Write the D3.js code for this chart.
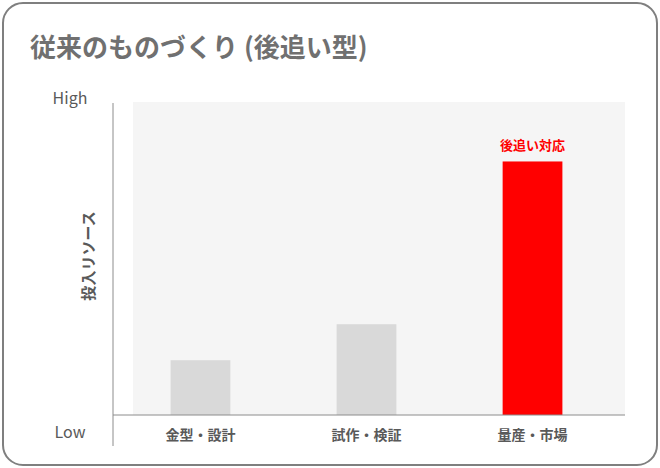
<!DOCTYPE html>
<html><head><meta charset="utf-8">
<script src="https://cdn.jsdelivr.net/npm/d3@7"></script>
<style>body{margin:0;background:#fff}svg{display:block}</style>
</head><body><svg id="c" width="660" height="468"></svg>
<script>
var categories = ['金型・設計', '試作・検証', '量産・市場'];
var values = [17.5, 29, 81];
var colors = ['#d9d9d9', '#d9d9d9', '#ff0000'];
var barLabels = ['', '', '後追い対応'];
var yTicks = ['Low', 'High'];

var svg = d3.select('#c');
var F = "'Noto Sans CJK JP', 'Noto Sans', sans-serif";
svg.append('rect').attr('x', 3).attr('y', 3).attr('width', 654).attr('height', 462).attr('rx', 20)
  .attr('fill', '#fff').attr('stroke', '#7f7f7f').attr('stroke-width', 2);
svg.append('text').attr('x', 30).attr('y', 57).attr('font-family', F).attr('font-size', 26).attr('font-weight', 700)
  .attr('fill', '#707070').text('従来のものづくり (後追い型)');

var L = 133, R = 625, T = 102, B = 415;
var x = d3.scaleBand().domain(categories).range([154, 579]).paddingInner(0.64).paddingOuter(0.1);
var y = d3.scaleLinear().domain([0, 100]).range([B, T]);

svg.append('rect').attr('x', L).attr('y', T).attr('width', R - L).attr('height', B - T).attr('fill', '#f5f5f5');
svg.selectAll('.bar').data(values).enter().append('rect')
  .attr('x', function (d, i) { return x(categories[i]); }).attr('width', x.bandwidth())
  .attr('y', function (d) { return y(d); }).attr('height', function (d) { return B - y(d); })
  .attr('fill', function (d, i) { return colors[i]; });
svg.selectAll('.bl').data(values).enter().append('text')
  .attr('x', function (d, i) { return x(categories[i]) + x.bandwidth() / 2; }).attr('y', function (d) { return y(d) - 11; })
  .attr('text-anchor', 'middle').attr('font-family', F).attr('font-size', 13).attr('font-weight', 700).attr('fill', '#ff0000')
  .text(function (d, i) { return barLabels[i]; });

svg.append('line').attr('x1', 113).attr('x2', 113).attr('y1', 103).attr('y2', 446).attr('stroke', '#8c8c8c');
svg.append('line').attr('x1', 113).attr('x2', R).attr('y1', B).attr('y2', B).attr('stroke', '#8c8c8c');
svg.selectAll('.xl').data(categories).enter().append('text')
  .attr('x', function (d) { return x(d) + x.bandwidth() / 2; }).attr('y', 440).attr('text-anchor', 'middle')
  .attr('font-family', F).attr('font-size', 14).attr('font-weight', 700).attr('fill', '#595959').text(function (d) { return d; });
svg.selectAll('.yl').data(yTicks).enter().append('text')
  .attr('x', 70).attr('y', function (d, i) { return i ? 104 : 438; }).attr('text-anchor', 'middle')
  .attr('font-family', F).attr('font-size', 16).attr('fill', '#595959').text(function (d) { return d; });
svg.append('text').attr('transform', 'translate(94,256) rotate(-90)').attr('text-anchor', 'middle')
  .attr('font-family', F).attr('font-size', 15).attr('font-weight', 700).attr('fill', '#595959').text('投入リソース');
</script></body></html>
